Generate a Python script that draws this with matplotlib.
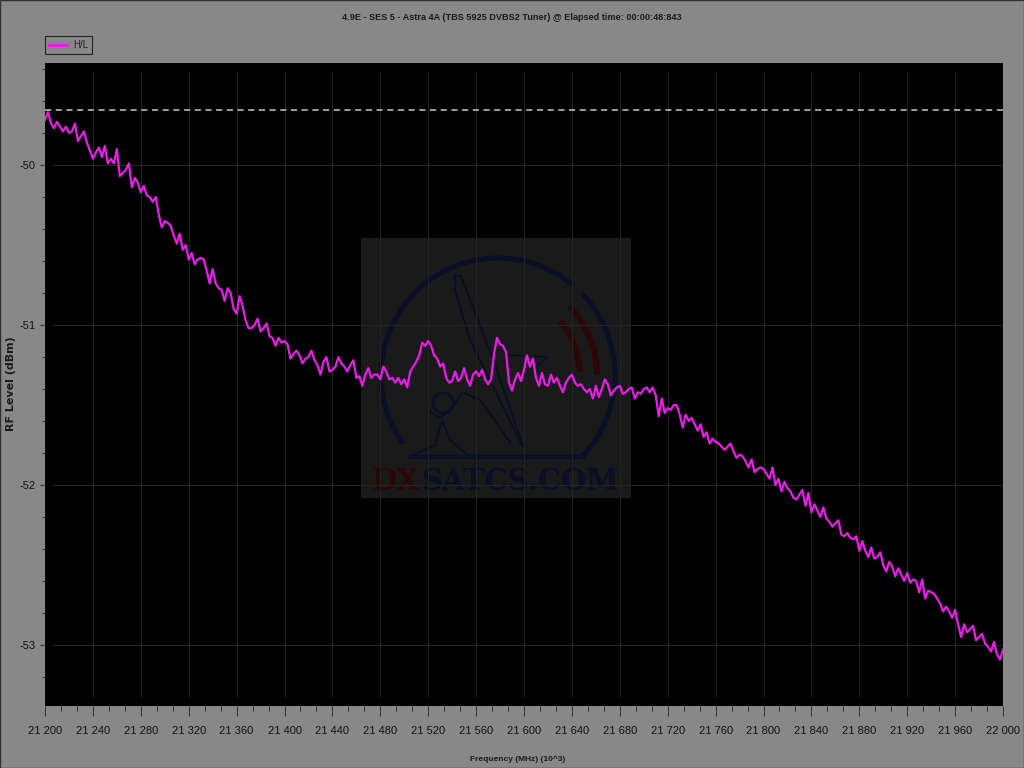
import numpy as np
import matplotlib
matplotlib.use('Agg')
import matplotlib.pyplot as plt
from matplotlib.patches import Rectangle, Arc, Circle, Polygon
from matplotlib.ticker import FixedLocator, FuncFormatter
from matplotlib.transforms import Affine2D

plt.rcParams['font.family'] = ['Liberation Sans', 'DejaVu Sans']
plt.rcParams['axes.unicode_minus'] = False

title = '4.9E - SES 5 - Astra 4A (TBS 5925 DVBS2 Tuner) @ Elapsed time: 00:00:48:843'
x_label = 'Frequency (MHz) (10^3)'
y_label = 'RF Level (dBm)'
series_name = 'H/L'

freq_start = 21200
freq_step = 2.5
max_hold = -49.656

# one row = 40 MHz
level = [
    -49.72, -49.67, -49.74, -49.77, -49.73, -49.76, -49.79, -49.76, -49.80, -49.79, -49.74, -49.85, -49.82, -49.79, -49.86, -49.91,
    -49.96, -49.92, -49.89, -49.95, -49.88, -49.99, -49.96, -49.99, -49.90, -50.07, -50.05, -50.03, -49.99, -50.14, -50.08, -50.11,
    -50.17, -50.13, -50.19, -50.20, -50.23, -50.20, -50.31, -50.39, -50.35, -50.36, -50.38, -50.44, -50.49, -50.43, -50.53, -50.50,
    -50.59, -50.55, -50.62, -50.59, -50.58, -50.59, -50.66, -50.74, -50.65, -50.74, -50.77, -50.78, -50.85, -50.77, -50.80, -50.90,
    -50.93, -50.82, -50.88, -50.97, -51.02, -51.02, -51.00, -50.96, -51.04, -51.02, -50.99, -51.07, -51.08, -51.13, -51.08, -51.11,
    -51.10, -51.12, -51.21, -51.18, -51.16, -51.19, -51.24, -51.21, -51.20, -51.16, -51.22, -51.25, -51.31, -51.23, -51.20, -51.29,
    -51.28, -51.26, -51.20, -51.24, -51.26, -51.29, -51.25, -51.22, -51.33, -51.32, -51.38, -51.31, -51.27, -51.33, -51.31, -51.31,
    -51.34, -51.26, -51.29, -51.34, -51.33, -51.36, -51.33, -51.37, -51.34, -51.39, -51.29, -51.26, -51.23, -51.19, -51.11, -51.13,
    -51.10, -51.13, -51.19, -51.21, -51.26, -51.24, -51.33, -51.36, -51.35, -51.29, -51.35, -51.33, -51.27, -51.34, -51.38, -51.31,
    -51.29, -51.32, -51.28, -51.34, -51.37, -51.34, -51.18, -51.08, -51.12, -51.13, -51.17, -51.36, -51.41, -51.34, -51.30, -51.35,
    -51.28, -51.19, -51.26, -51.21, -51.33, -51.38, -51.30, -51.37, -51.38, -51.31, -51.36, -51.33, -51.38, -51.42, -51.36, -51.33,
    -51.31, -51.36, -51.38, -51.37, -51.40, -51.42, -51.40, -51.46, -51.38, -51.45, -51.40, -51.34, -51.37, -51.44, -51.41, -51.39,
    -51.38, -51.43, -51.42, -51.40, -51.39, -51.46, -51.42, -51.43, -51.40, -51.39, -51.42, -51.39, -51.44, -51.57, -51.46, -51.55,
    -51.52, -51.53, -51.50, -51.50, -51.56, -51.64, -51.56, -51.60, -51.58, -51.62, -51.66, -51.62, -51.70, -51.67, -51.74, -51.71,
    -51.73, -51.74, -51.76, -51.78, -51.76, -51.74, -51.79, -51.83, -51.81, -51.82, -51.85, -51.89, -51.84, -51.92, -51.90, -51.89,
    -51.90, -51.93, -51.96, -51.89, -52.00, -51.96, -52.04, -51.98, -52.02, -52.04, -52.08, -52.09, -52.06, -52.03, -52.13, -52.05,
    -52.17, -52.12, -52.16, -52.20, -52.14, -52.21, -52.23, -52.26, -52.24, -52.22, -52.31, -52.32, -52.30, -52.33, -52.34, -52.32,
    -52.41, -52.35, -52.41, -52.45, -52.39, -52.46, -52.45, -52.42, -52.50, -52.54, -52.48, -52.51, -52.57, -52.52, -52.56, -52.60,
    -52.55, -52.61, -52.59, -52.60, -52.67, -52.59, -52.71, -52.66, -52.67, -52.68, -52.71, -52.74, -52.79, -52.76, -52.79, -52.83,
    -52.78, -52.87, -52.95, -52.87, -52.92, -52.90, -52.88, -52.97, -52.95, -52.93, -52.99, -53.01, -53.04, -52.98, -53.06, -53.09,
    -53.03,
]
freq = freq_start + freq_step * np.arange(len(level))

x_major = np.arange(21200, 22001, 40)
x_minor = np.arange(21200, 22001, 40 / 3)
y_major = [-50, -51, -52, -53]
y_minor = np.arange(-53.2, -49.3, 0.2)

W, H = 1024, 768
GRAY = '#888888'
fig = plt.figure(figsize=(W / 100, H / 100), dpi=100, facecolor=GRAY)
ax = fig.add_axes([45 / W, 1 - 706 / H, 958 / W, 643 / H], facecolor='black')
ax.set_xlim(21200, 22000)
ax.set_ylim(-53.381, -49.3625)

# pixel coordinates for the watermark, origin at top left like the screenshot
px = Affine2D().scale(1, -1).translate(0, H)

# frame of the window
fig.add_artist(Rectangle((0, 0), 1, 1, transform=fig.transFigure, fill=False, edgecolor='#303030', lw=1))

# watermark
NAVY = '#0a0e26'
DRED = '#2a0808'
ax.add_patch(Rectangle((361, 238), 270, 260, transform=px, facecolor='#1a1a1a', edgecolor='none', zorder=1))
ring = dict(transform=px, fill=False, zorder=1.2)
ax.add_patch(Arc((498, 375), 234, 234, theta1=144, theta2=310, edgecolor=NAVY, lw=3.6, **ring))
ax.add_patch(Arc((498, 375), 234, 234, theta1=-44, theta2=44, edgecolor=NAVY, lw=3.6, **ring))
ax.add_patch(Arc((498, 375), 198, 198, theta1=-44, theta2=0, edgecolor=DRED, lw=4.5, **ring))
ax.add_patch(Arc((498, 375), 164, 164, theta1=-41, theta2=-2, edgecolor=DRED, lw=4.5, **ring))
ax.plot([410, 583], [457, 457], transform=px, color=NAVY, lw=3.2, zorder=1.2)
ax.add_patch(Polygon([(455, 275), (461, 276), (497, 370), (523, 447), (470, 340), (455, 290)], closed=True,
                     transform=px, fill=False, edgecolor=NAVY, lw=1.5, zorder=1.2))
ax.add_patch(Circle((443, 403), 10, transform=px, fill=False, edgecolor=NAVY, lw=2, zorder=1.2))
ax.plot([428, 440, 452, 462, 480, 510], [410, 418, 408, 392, 400, 442], transform=px, color=NAVY, lw=1.5, zorder=1.2)
ax.plot([410, 435, 442, 450, 470], [457, 445, 420, 440, 457], transform=px, color=NAVY, lw=1.5, zorder=1.2)
ax.plot([508, 548, 532], [355, 357, 370], transform=px, color=NAVY, lw=1.2, zorder=1.2)
mark = dict(transform=px, family='DejaVu Serif', fontweight='bold', fontsize=21, va='baseline', ha='left', zorder=1.2)
ax.text(372, 490, 'DX', color=DRED, **mark)
ax.text(421, 490, 'SATCS.COM', color=NAVY, **mark)

# grid stops a little short of the frame
ax.vlines(x_major[1:], -53.325, -49.42, color='#242424', lw=0.8, zorder=1.5)
ax.hlines(y_major, 21206, 22000, color='#242424', lw=0.8, zorder=1.5)

ax.axhline(max_hold, color='#c8c8c8', lw=1.1, ls=(0, (4, 3)), zorder=2)
ax.plot(freq, level, color='#e81ee8', lw=1.6, label=series_name, zorder=3)

for s in ax.spines.values():
    s.set_visible(False)
ax.xaxis.set_major_locator(FixedLocator(x_major))
ax.xaxis.set_minor_locator(FixedLocator(x_minor))
ax.yaxis.set_major_locator(FixedLocator(y_major))
ax.yaxis.set_minor_locator(FixedLocator(y_minor))
ax.xaxis.set_major_formatter(FuncFormatter(lambda v, p: f'{int(v):,}'.replace(',', ' ')))
ax.tick_params(axis='x', which='major', length=7.5, width=0.7, color='#303030', labelsize=8, labelcolor='#111111', pad=7)
ax.tick_params(axis='x', which='minor', length=3.6, width=0.7, color='#303030')
ax.tick_params(axis='y', which='major', length=3.6, width=0.7, color='#303030', labelsize=8, labelcolor='#111111', pad=3)
ax.tick_params(axis='y', which='minor', length=2, width=0.7, color='#303030')

fig.text(512 / W, 1 - 17 / H, title, ha='center', va='center', fontsize=6.6, fontweight='bold', color='#1a1a1a')
fig.text(518 / W, 1 - 759 / H, x_label, ha='center', va='center', fontsize=6, fontweight='bold', color='#1a1a1a')
fig.text(11 / W, 1 - 384 / H, y_label, rotation=90, ha='center', va='center', fontsize=8, fontweight='bold',
         family='DejaVu Sans', color='#1a1a1a')

leg = ax.legend(loc='lower left', bbox_to_anchor=(0, 1.014), borderaxespad=0, fontsize=7, fancybox=False,
                frameon=True, facecolor=GRAY, edgecolor='#202020', framealpha=1, handlelength=1.9,
                handletextpad=0.6, borderpad=0.4)
leg.get_frame().set_linewidth(0.8)
leg.get_lines()[0].set_linewidth(2.2)
for t in leg.get_texts():
    t.set_color('#202020')

fig.savefig('out.png', dpi=100, facecolor=GRAY)
